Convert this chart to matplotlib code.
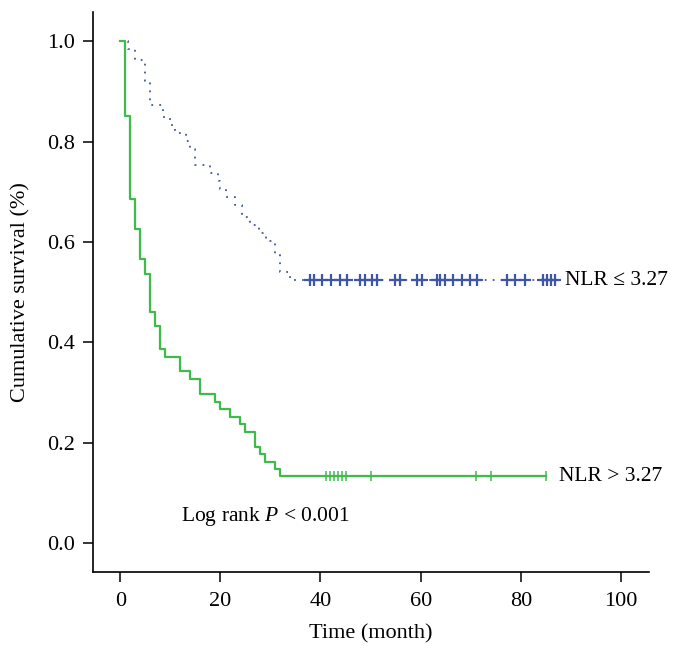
import numpy as np
import matplotlib
matplotlib.use('Agg')
import matplotlib.pyplot as plt

plt.rcParams['font.family'] = ['Liberation Serif', 'DejaVu Serif']
plt.rcParams['mathtext.fontset'] = 'custom'
plt.rcParams['mathtext.rm'] = 'Liberation Serif'
plt.rcParams['mathtext.it'] = 'Liberation Serif:italic'

# NLR <= 3.27 (blue dotted)
low_t = [0, 1.5, 3.0, 5.0, 6.0, 8.5, 10.0, 11.0, 13.2, 14.0, 15.0, 18.0, 19.5,
         20.0, 21.1, 23.0, 24.4, 26.0, 27.8, 29.2, 31.0, 32.0, 34.0]
low_s = [1.0, 0.984, 0.963, 0.921, 0.873, 0.849, 0.833, 0.817, 0.801, 0.786,
         0.754, 0.738, 0.722, 0.706, 0.690, 0.674, 0.650, 0.634, 0.618, 0.602,
         0.574, 0.540, 0.524]
low_cens = [38.0, 38.8, 40.3, 42.0, 43.8, 45.3, 47.9, 48.9, 50.2, 51.2, 54.8,
            55.8, 59.2, 60.2, 63.2, 63.8, 64.8, 66.5, 68.2, 69.8, 71.2, 77.2,
            78.8, 80.8, 84.5, 85.2, 86.0, 86.8]

# NLR > 3.27 (green solid)
high_t = [0, 0.9, 2, 3, 4, 5, 6, 7, 8, 9, 12, 14, 16, 19, 20, 22, 24, 25, 27,
          28, 29, 31, 32]
high_s = [1.0, 0.851, 0.685, 0.626, 0.566, 0.536, 0.461, 0.433, 0.387, 0.371,
          0.342, 0.328, 0.297, 0.282, 0.267, 0.252, 0.237, 0.222, 0.192, 0.178,
          0.162, 0.147, 0.133]
high_cens = [41.0, 41.8, 42.6, 43.4, 44.3, 45.1, 50.0, 71.0, 74.0, 85.0]

blue = '#3f56a6'
green = '#3fbb4c'


def km_curve(t, s, cens):
    end = max(cens)
    xs = list(t) + [end]
    ys = list(s) + [s[-1]]
    return xs, ys, s[-1]


fig = plt.figure(figsize=(6.86, 6.56), dpi=100)
ax = fig.add_axes([0.1351, 0.1276, 0.8109, 0.8541])

xs, ys, last = km_curve(low_t, low_s, low_cens)
ax.step(xs, ys, where='post', color=blue, lw=1.3, linestyle=(0, (1, 3.4)))
ax.plot(low_cens, [last] * len(low_cens), linestyle='none', marker='+',
        markersize=8, mew=1.6, color=blue)

xs, ys, last = km_curve(high_t, high_s, high_cens)
ax.step(xs, ys, where='post', color=green, lw=1.6)
ax.plot(high_cens, [last] * len(high_cens), linestyle='none', marker='|',
        markersize=7, mew=1.1, color=green)

ax.text(88.8, 0.524, 'NLR ≤ 3.27', fontsize=15.5, va='center', ha='left')
ax.text(87.6, 0.133, 'NLR > 3.27', fontsize=15.5, va='center', ha='left')
ax.text(12.1, 0.054, r'Log rank $P$ < 0.001', fontsize=15.5, va='center', ha='left')

ax.set_xlim(-5.5, 105.6)
ax.set_ylim(-0.058, 1.058)
ax.set_xticks([0, 20, 40, 60, 80, 100])
ax.set_yticks([0.0, 0.2, 0.4, 0.6, 0.8, 1.0])
ax.set_yticklabels(['0.0', '0.2', '0.4', '0.6', '0.8', '1.0'])
ax.tick_params(axis='both', labelsize=16, length=7, width=1.1, direction='out')
ax.tick_params(axis='x', pad=7)
ax.tick_params(axis='y', pad=6)

for side in ['top', 'right']:
    ax.spines[side].set_visible(False)
for side in ['left', 'bottom']:
    ax.spines[side].set_linewidth(1.2)

ax.set_xlabel('Time (month)', fontsize=16)
ax.set_ylabel('Cumulative survival (%)', fontsize=16)
ax.xaxis.set_label_coords(0.5, -0.093)
ax.yaxis.set_label_coords(-0.112, 0.5)

fig.savefig('out.png', dpi=100)
plt.close(fig)
